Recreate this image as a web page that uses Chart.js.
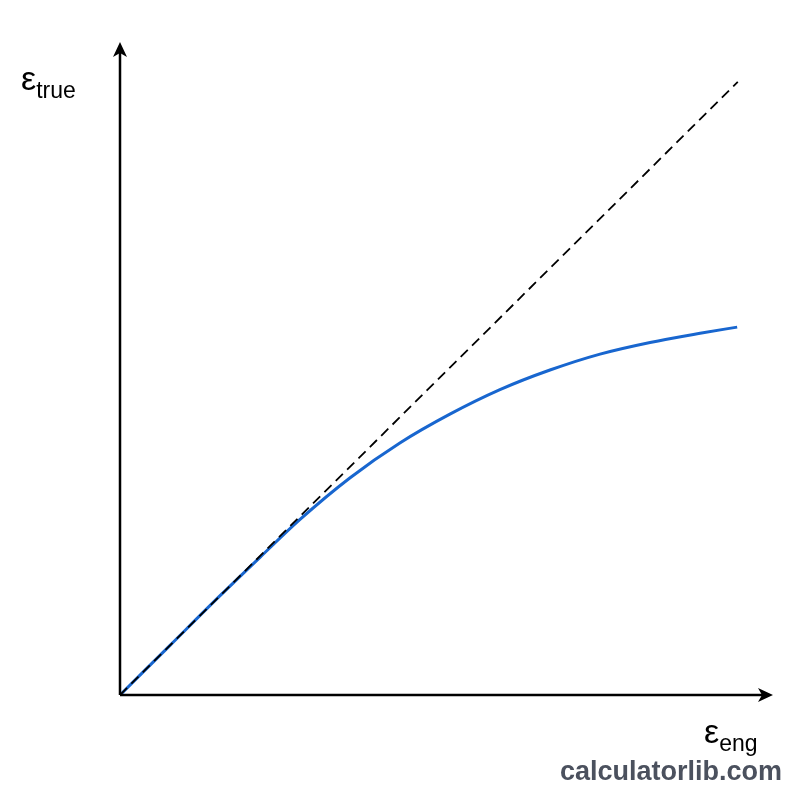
<!DOCTYPE html>
<html>
<head>
<meta charset="utf-8">
<script src="https://cdn.jsdelivr.net/npm/chart.js@4/dist/chart.umd.min.js"></script>
<style>
  html, body { margin: 0; padding: 0; background: #fff; }
  #wrap { position: relative; width: 800px; height: 800px; }
  .lbl { position: absolute; font-family: "Liberation Sans", Arial, sans-serif; color: #000; white-space: nowrap; }
  .lbl .big { font-size: 34px; }
  .lbl sub { font-size: 23px; vertical-align: -8px; }
  #brand { position: absolute; right: 18px; top: 756px; font-family: "Liberation Sans", Arial, sans-serif;
           font-weight: bold; font-size: 27px; color: #4b515e; }
</style>
</head>
<body>
<div id="wrap">
  <canvas id="strainChart" width="800" height="800"></canvas>
  <div class="lbl" style="left:21px; top:59px;"><span class="big">ε</span><sub>true</sub></div>
  <div class="lbl" style="left:704px; top:712px;"><span class="big">ε</span><sub>eng</sub></div>
  <div id="brand">calculatorlib.com</div>
</div>
<script>
// Engineering strain vs true strain
const engStrain = [0, 0.081, 0.162, 0.227, 0.291, 0.372, 0.453, 0.534, 0.615, 0.696, 0.777, 0.858, 0.939, 0.999];
const trueStrain = [0, 0.081, 0.162, 0.225, 0.286, 0.354, 0.411, 0.458, 0.498, 0.530, 0.556, 0.575, 0.590, 0.600];
// Reference line eps_true = eps_eng
const refX = [0, 1];
const refY = [0, 1];

const curvePts = engStrain.map((x, i) => ({ x: x, y: trueStrain[i] }));
const refPts = refX.map((x, i) => ({ x: x, y: refY[i] }));

// Draw the two axes with arrow heads
const arrowAxes = {
    id: 'arrowAxes',
    afterDraw(chart) {
        const c = chart.ctx;
        const xs = chart.scales.x, ys = chart.scales.y;
        const ox = xs.getPixelForValue(0), oy = ys.getPixelForValue(0);
        const right = chart.chartArea.right, top = chart.chartArea.top;
        c.save();
        c.strokeStyle = '#000';
        c.fillStyle = '#000';
        c.lineWidth = 2.5;
        c.beginPath();
        c.moveTo(ox, oy);
        c.lineTo(right - 8, oy);
        c.moveTo(ox, oy);
        c.lineTo(ox, top + 8);
        c.stroke();
        // x arrow
        c.beginPath();
        c.moveTo(right, oy);
        c.lineTo(right - 15, oy - 7);
        c.lineTo(right - 11, oy);
        c.lineTo(right - 15, oy + 7);
        c.closePath();
        c.fill();
        // y arrow
        c.beginPath();
        c.moveTo(ox, top);
        c.lineTo(ox - 7, top + 15);
        c.lineTo(ox, top + 11);
        c.lineTo(ox + 7, top + 15);
        c.closePath();
        c.fill();
        c.restore();
    }
};

const ctx = document.getElementById('strainChart').getContext('2d');
const strainChart = new Chart(ctx, {
    type: 'scatter',
    data: {
        datasets: [{
            label: 'reference',
            data: refPts,
            showLine: true,
            borderColor: '#000',
            borderWidth: 1.8,
            borderDash: [10, 6],
            pointRadius: 0
        }, {
            label: 'true strain',
            data: curvePts,
            showLine: true,
            borderColor: '#1866cf',
            borderWidth: 3,
            cubicInterpolationMode: 'monotone',
            pointRadius: 0
        }]
    },
    options: {
        responsive: false,
        animation: false,
        layout: {
            padding: { left: 120, right: 27, top: 42, bottom: 105 }
        },
        scales: {
            x: { type: 'linear', min: 0, max: 1.057, display: false },
            y: { type: 'linear', min: 0, max: 1.065, display: false }
        },
        plugins: {
            legend: { display: false },
            tooltip: { enabled: false }
        }
    },
    plugins: [arrowAxes]
});
</script>
</body>
</html>
